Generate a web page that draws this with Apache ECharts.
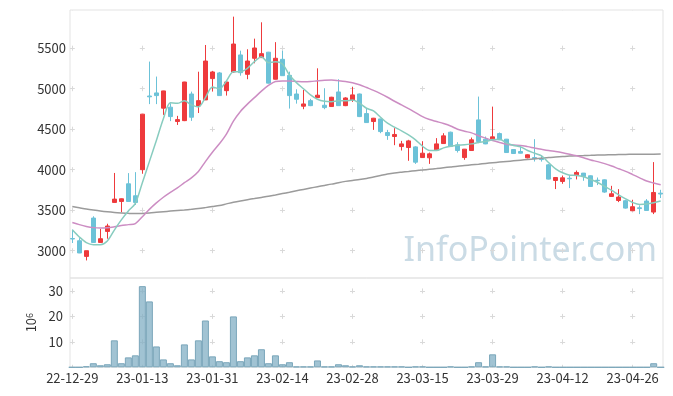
<!DOCTYPE html>
<html><head><meta charset="utf-8">
<script src="https://cdn.jsdelivr.net/npm/echarts@6/dist/echarts.min.js"></script>
<style>html,body{margin:0;padding:0;background:#fff}#c{width:673px;height:396px}</style>
</head><body><div id="c"></div>
<script>
const dates = ['22-12-29','23-01-02','23-01-03','23-01-04','23-01-05','23-01-06','23-01-09','23-01-10','23-01-11','23-01-12',
'23-01-13','23-01-16','23-01-17','23-01-18','23-01-19','23-01-20','23-01-25','23-01-26','23-01-27','23-01-30',
'23-01-31','23-02-01','23-02-02','23-02-03','23-02-06','23-02-07','23-02-08','23-02-09','23-02-10','23-02-13',
'23-02-14','23-02-15','23-02-16','23-02-17','23-02-20','23-02-21','23-02-22','23-02-23','23-02-24','23-02-27',
'23-02-28','23-03-02','23-03-03','23-03-06','23-03-07','23-03-08','23-03-09','23-03-10','23-03-13','23-03-14',
'23-03-15','23-03-16','23-03-17','23-03-20','23-03-21','23-03-22','23-03-23','23-03-24','23-03-27','23-03-28',
'23-03-29','23-03-30','23-03-31','23-04-03','23-04-04','23-04-05','23-04-06','23-04-07','23-04-10','23-04-11',
'23-04-12','23-04-13','23-04-14','23-04-17','23-04-18','23-04-19','23-04-20','23-04-21','23-04-24','23-04-25',
'23-04-26','23-04-27','23-04-28','23-05-02','23-05-03'];

const openP = [3150,3123,2930,3403,3102,3238,3596,3608,3826,3678,
4000,4910,4948,4760,4772,4595,4606,4935,4788,4862,
5125,5195,4976,5207,5417,5178,5376,5384,5451,5117,
5363,5165,4935,4784,4853,4890,4796,4780,4960,4791,
4862,4935,4693,4595,4627,4459,4410,4286,4274,4282,
4150,4147,4245,4323,4463,4307,4150,4237,4615,4377,
4381,4446,4377,4249,4225,4147,4150,4140,4060,3867,
3855,3895,3937,3958,3925,3870,3875,3670,3620,3617,
3493,3530,3613,3477,3710];
const closeP = [3145,2972,3000,3102,3148,3305,3637,3641,3608,3596,
4686,4900,4915,4973,4656,4619,5083,4648,4853,5342,
5207,4915,5083,5552,5198,5342,5503,5433,5069,5376,
5161,4915,4870,4812,4791,4920,4767,4895,4791,4886,
4924,4656,4582,4636,4471,4422,4435,4319,4356,4093,
4204,4196,4319,4418,4286,4237,4254,4369,4348,4319,
4406,4369,4212,4200,4204,4184,4135,4125,3884,3904,
3900,3888,3966,3916,3793,3864,3724,3703,3662,3526,
3543,3520,3497,3719,3700];
const lowP = [3095,2970,2880,3100,3100,3148,3595,3475,3605,3565,
3950,4810,4810,4677,4600,4553,4600,4603,4700,4860,
4965,4915,4915,5200,5161,5117,5314,5380,5065,5115,
5160,4755,4816,4747,4785,4888,4747,4775,4791,4785,
4837,4650,4580,4492,4451,4369,4303,4237,4110,4072,
4145,4072,4240,4320,4280,4212,4122,4235,4328,4315,
4380,4365,4210,4195,4200,4140,4101,4100,3880,3761,
3826,3773,3880,3863,3790,3810,3715,3665,3600,3520,
3490,3452,3495,3452,3650];
const highP = [3260,3155,3000,3425,3270,3333,3960,3645,3958,3970,
4690,5335,5150,4975,4820,4665,5085,4964,5210,5540,
5220,5207,5090,5890,5470,5487,5618,5820,5455,5575,
5470,5211,4993,4985,4875,5252,5006,4900,5117,4895,
5022,4940,4750,4640,4630,4492,4513,4356,4369,4290,
4352,4212,4390,4451,4470,4340,4256,4397,4903,4410,
4779,4459,4380,4255,4286,4190,4377,4180,4072,3906,
3928,3937,3990,3960,3930,3904,3880,3801,3760,3629,
3629,3560,3637,4094,3752];

const ma5 = [3259,3170,3100,3075,3075,3120,3255,3380,3490,3585,
3840,4100,4360,4630,4826,4820,4850,4800,4775,4890,
5020,5000,5096,5211,5211,5252,5334,5396,5322,5334,
5306,5170,5075,5000,4924,4870,4845,4840,4850,4850,
4860,4821,4759,4726,4648,4574,4525,4480,4430,4369,
4290,4237,4237,4270,4291,4303,4307,4319,4336,4348,
4369,4377,4330,4300,4282,4237,4204,4171,4089,4011,
3962,3933,3929,3912,3879,3842,3793,3744,3690,3641,
3596,3571,3576,3592,3613];
const ma20 = [3349,3322,3300,3285,3280,3283,3295,3310,3322,3335,
3420,3510,3590,3660,3720,3775,3840,3900,3979,4100,
4215,4320,4440,4600,4720,4810,4890,4970,5040,5090,
5096,5096,5090,5085,5088,5098,5106,5108,5100,5090,
5075,5050,5015,4980,4940,4895,4845,4800,4755,4705,
4655,4620,4595,4570,4540,4500,4475,4455,4420,4390,
4360,4336,4315,4305,4300,4285,4268,4252,4237,4225,
4210,4192,4172,4148,4120,4100,4075,4045,4012,3980,
3940,3900,3860,3835,3815];
const ma60 = [3545,3530,3515,3502,3490,3480,3472,3466,3461,3458,
3460,3466,3474,3482,3489,3496,3503,3511,3520,3532,
3545,3558,3578,3598,3615,3630,3644,3658,3672,3688,
3705,3722,3740,3757,3774,3790,3806,3822,3840,3856,
3868,3878,3892,3910,3928,3946,3960,3970,3979,3988,
3996,4005,4014,4024,4034,4044,4052,4060,4068,4077,
4086,4094,4102,4110,4118,4126,4134,4142,4150,4156,
4162,4168,4172,4175,4178,4181,4183,4185,4187,4189,
4190,4191,4192,4192,4193];
const volume = [0,0,0.4,1.6,0.8,1.2,10.6,1.6,3.9,4.7,
31.9,25.9,8.2,3.1,1.6,0.8,9.0,3.1,10.6,18.4,
4.3,2.4,2.0,20.0,2.4,3.9,4.7,7.1,1.6,4.7,
1.2,2.0,0.3,0.3,0.3,2.7,0.3,0.3,1.2,0.8,
0.3,0.8,0.3,0.3,0.3,0.3,0.3,0.3,0,0.3,
0.3,0,0,0,0.3,0,0,0.3,2.0,0.3,
5.1,0.3,0.3,0,0,0,0.3,0,0.3,0,
0,0,0,0,0,0,0,0,0,0,
0,0,0,1.6,0];

const priceTicks = [3000,3500,4000,4500,5000,5500];
const volTicks = [10,20,30];
const dateTickIdx = [0,10,20,30,40,50,60,70,80];

const candleData = dates.map((d,i)=>[i, openP[i], closeP[i], lowP[i], highP[i]]);
const lineData = arr => arr.map((v,i)=>[i,v]);
const volData = volume.map((v,i)=>[i,v]);

const FONT = '"Noto Sans CJK KR", "Noto Sans", sans-serif';
const gridCross = '#d9d9d9';
const xMin = -0.33, xMax = 84.33;

const chart = echarts.init(document.getElementById('c'), null, {renderer:'canvas'});
chart.setOption({
  animation:false,
  backgroundColor:'#fff',
  textStyle:{fontFamily:FONT},
  graphic:[{
    type:'text', right:16, top:234, z:-10, silent:true,
    style:{text:'InfoPointer.com', font:'34px "Noto Sans"', fill:'#cadbe5'}
  }],
  grid:[
    {left:70, right:10, top:10, height:268, show:true, borderColor:'#e3e3e3', borderWidth:1, backgroundColor:'transparent'},
    {left:70, right:10, top:278, height:89.3, show:true, borderColor:'#e3e3e3', borderWidth:1, backgroundColor:'transparent'}
  ],
  xAxis:[
    {type:'value', gridIndex:0, min:xMin, max:xMax,
     axisLine:{show:false}, axisLabel:{show:false, customValues:dateTickIdx},
     axisTick:{show:false, customValues:dateTickIdx},
     splitLine:{show:true, lineStyle:{color:gridCross, width:1, type:[5,35.5], dashOffset:4.8}}},
    {type:'value', gridIndex:1, min:xMin, max:xMax,
     axisLine:{show:false},
     axisTick:{show:false, customValues:dateTickIdx},
     axisLabel:{show:true, customValues:dateTickIdx, color:'#333', fontSize:13, margin:4,
       formatter:v=>dates[Math.round(v)] || ''},
     splitLine:{show:true, lineStyle:{color:gridCross, width:1, type:[5,20.45], dashOffset:15}}}
  ],
  yAxis:[
    {type:'value', gridIndex:0, min:2663, max:5972,
     axisLine:{show:false}, axisTick:{show:false, customValues:priceTicks},
     axisLabel:{customValues:priceTicks, color:'#333', fontSize:13, margin:4, formatter:v=>String(v)},
     splitLine:{show:true, lineStyle:{color:gridCross, width:1, type:[5,65.05], dashOffset:0.2}}},
    {type:'value', gridIndex:1, min:0, max:35.1,
     axisLine:{show:false}, axisTick:{show:false, customValues:volTicks},
     axisLabel:{customValues:volTicks, color:'#333', fontSize:13, margin:7, formatter:v=>String(v)},
     splitLine:{show:true, lineStyle:{color:gridCross, width:1, type:[5,65.05], dashOffset:0.2}},
     name:'{b|10}{s|6}', nameLocation:'middle', nameRotate:90, nameGap:29,
     nameTextStyle:{rich:{b:{fontSize:13, color:'#333', fontFamily:FONT}, s:{fontSize:9, color:'#333', verticalAlign:'top', fontFamily:FONT}}}}
  ],
  series:[
    {type:'candlestick', xAxisIndex:0, yAxisIndex:0, data:candleData, encode:{x:0, y:[1,2,3,4]},
     barWidth:5,
     itemStyle:{color:'#ee3a3c', color0:'#6cc2d8', borderColor:'#ee3a3c', borderColor0:'#6cc2d8', borderWidth:1}},
    {type:'line', xAxisIndex:0, yAxisIndex:0, data:lineData(ma60), showSymbol:false, smooth:0.3,
     lineStyle:{color:'#9b9b9b', width:1.5}},
    {type:'line', xAxisIndex:0, yAxisIndex:0, data:lineData(ma20), showSymbol:false, smooth:0.3,
     lineStyle:{color:'#cc8dc3', width:1.5}},
    {type:'line', xAxisIndex:0, yAxisIndex:0, data:lineData(ma5), showSymbol:false, smooth:0.3,
     lineStyle:{color:'#88ccbf', width:1.5}},
    {type:'bar', xAxisIndex:1, yAxisIndex:1, data:volData, barWidth:7,
     itemStyle:{color:'rgba(125,172,194,0.72)', borderColor:'#7aa6ba', borderWidth:1}}
  ]
});
</script></body></html>
